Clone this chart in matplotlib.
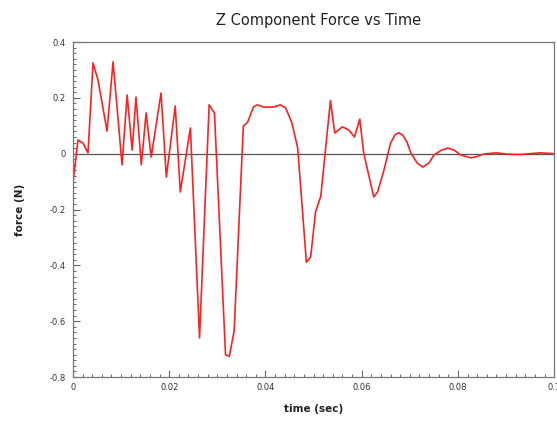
import matplotlib
matplotlib.use("Agg")
import matplotlib.pyplot as plt
from matplotlib.ticker import MultipleLocator, FuncFormatter

title = "Z Component Force vs Time"
xlabel = "time (sec)"
ylabel = "force (N)"

time = [0.0, 0.00104, 0.00208, 0.00313, 0.00417, 0.0052, 0.00708, 0.00833, 0.0102,
        0.01125, 0.0123, 0.0131, 0.0142, 0.0152, 0.01625, 0.0183, 0.0194, 0.02125,
        0.0223, 0.0244, 0.0263, 0.0283, 0.0294, 0.0317, 0.0325, 0.0335, 0.0354,
        0.0363, 0.0375, 0.0383, 0.0396, 0.0417, 0.0431, 0.0442, 0.0455, 0.0467, 0.0485,
        0.0494, 0.0504, 0.0515, 0.0535, 0.0544, 0.056, 0.0573, 0.0585, 0.0596,
        0.0604, 0.0625, 0.0633, 0.0646, 0.0660, 0.0669, 0.0677, 0.0685, 0.0694,
        0.0702, 0.0715, 0.0727, 0.0740, 0.0750, 0.0765, 0.0779, 0.0792, 0.0806,
        0.0827, 0.0840, 0.0854, 0.0879, 0.0904, 0.0929, 0.0971, 0.1]
force = [-0.105, 0.049, 0.038, 0.003, 0.325, 0.264, 0.081, 0.329, -0.04,
         0.21, 0.013, 0.203, -0.04, 0.146, -0.012, 0.217, -0.084, 0.171,
         -0.137, 0.092, -0.66, 0.175, 0.146, -0.72, -0.726, -0.633, 0.099,
         0.113, 0.167, 0.175, 0.167, 0.167, 0.175, 0.164, 0.11, 0.02, -0.389,
         -0.37, -0.209, -0.152, 0.19, 0.074, 0.096, 0.085, 0.06, 0.124,
         0.003, -0.155, -0.137, -0.06, 0.038, 0.067, 0.075, 0.067, 0.042,
         0.003, -0.033, -0.048, -0.033, -0.005, 0.012, 0.02, 0.013, -0.005,
         -0.015, -0.01, -0.001, 0.003, -0.002, -0.003, 0.003, 0.0]

xticks = [0, 0.02, 0.04, 0.06, 0.08, 0.1]
yticks = [-0.8, -0.6, -0.4, -0.2, 0, 0.2, 0.4]

fig = plt.figure(figsize=(5.57, 4.21), dpi=100)
ax = fig.add_axes([0.131, 0.1045, 0.864, 0.7957])

ax.axhline(0, color="#555555", lw=0.9, zorder=1)
ax.plot(time, force, color="#ff2020", lw=1.2, zorder=2)

ax.set_xlim(0, 0.1)
ax.set_ylim(-0.8, 0.4)
ax.set_xticks(xticks)
ax.set_yticks(yticks)

def fmt(v, pos):
    s = ("%.2f" % v).rstrip("0").rstrip(".")
    if s in ("-0", ""):
        s = "0"
    return s

ax.xaxis.set_major_formatter(FuncFormatter(fmt))
ax.yaxis.set_major_formatter(FuncFormatter(fmt))
ax.xaxis.set_minor_locator(MultipleLocator(0.002))
ax.yaxis.set_minor_locator(MultipleLocator(0.02))

ax.tick_params(which="both", direction="in", colors="#666666", labelcolor="#333333",
               labelsize=6, top=False, right=False)
ax.tick_params(which="major", length=5, width=0.8)
ax.tick_params(which="minor", length=2.5, width=0.7)
ax.tick_params(axis="x", pad=4)
ax.tick_params(axis="y", pad=5)

for s in ax.spines.values():
    s.set_color("#777777")
    s.set_linewidth(0.9)

ax.set_title(title, fontsize=10.5, color="#222222", pad=12, x=0.51)
ax.set_xlabel(xlabel, fontsize=7.5, fontweight="bold", color="#222222", labelpad=9)
ax.set_ylabel(ylabel, fontsize=7.5, fontweight="bold", color="#222222", labelpad=18)

fig.savefig("out.png", dpi=100)
